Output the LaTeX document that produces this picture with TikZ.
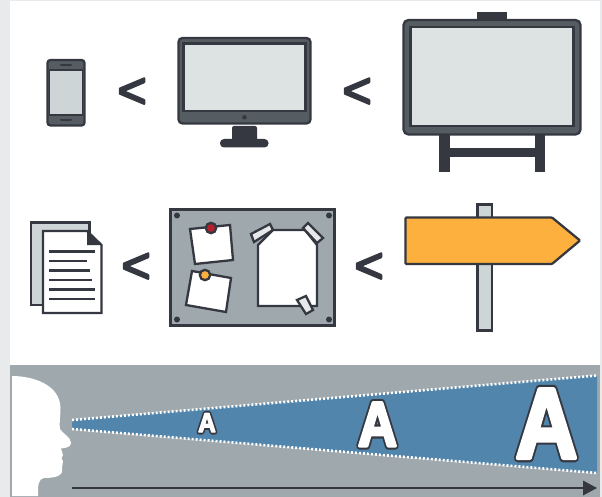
\documentclass[tikz,border=0pt]{standalone}
\usepackage{fontspec}
\setmainfont{Liberation Sans}
\definecolor{dk}{HTML}{353840}
\definecolor{md}{HTML}{555D63}
\definecolor{scr}{HTML}{DDE2E2}
\definecolor{scrb}{HTML}{CDD5D6}
\definecolor{gy}{HTML}{9EA8AD}
\definecolor{bl}{HTML}{5185AB}
\definecolor{og}{HTML}{FDB03E}
\definecolor{rd}{HTML}{B5202A}
\definecolor{pg}{HTML}{E8EAEC}
\definecolor{tp}{HTML}{E6E8E9}
\newcommand{\outl}[3]{\rlap{\special{pdf:code q 2 Tr 1 j #1 w 0.208 0.22 0.25 RG 0.208 0.22 0.25 rg}#3\special{pdf:code Q}}\special{pdf:code q 2 Tr 1 j #2 w 1 1 1 RG 1 1 1 rg}#3\special{pdf:code Q}}
\newcommand{\chev}[1]{\special{pdf:code q 2 Tr 1 J 1 j #1 w 0.208 0.22 0.25 RG 0.208 0.22 0.25 rg}<\special{pdf:code Q}}
\tikzset{
 ln/.style={draw=dk,line width=2.3pt},
 tx/.style={inner sep=0pt,anchor=base},
 ltmark/.style={inner sep=0pt,font=\fontsize{50}{50}\selectfont},
 screw/.style={fill=dk},
}
\begin{document}
\begin{tikzpicture}[x=1pt,y=-1pt]
\useasboundingbox (0,0) rectangle (602,497);
\fill[pg] (0,0) rectangle (602,497);
\fill[white] (10,1) rectangle (600,497);
% phone
\draw[ln,fill=md,rounded corners=3pt] (47.5,60) rectangle (84.5,125.5);
\draw[draw=dk,line width=1.8pt,fill=scrb] (49.5,70) rectangle (82.5,115);
\draw[dk,line width=2pt,line cap=round] (61,65) -- (71,65) (61,120.3) -- (71,120.3);
% monitor
\draw[ln,fill=md,rounded corners=4pt] (178.5,38) rectangle (310.5,123.5);
\draw[ln,fill=scr] (183.5,43.5) rectangle (305.5,111);
\fill[dk] (244.5,117.3) circle (2.3);
\fill[dk,rounded corners=2pt] (232,126) rectangle (257,145);
\fill[dk,rounded corners=4pt] (220,139) rectangle (268.5,147.5);
% whiteboard
\fill[dk] (477,12) rectangle (507,22);
\fill[dk] (439,130) rectangle (449.5,172.5);
\fill[dk] (535,130) rectangle (545,172.5);
\fill[dk] (445,148) rectangle (540,157);
\draw[ln,fill=md,rounded corners=5pt] (403.5,20) rectangle (580.5,134.5);
\draw[draw=dk,line width=2.5pt,fill=scr] (410.5,27) rectangle (573.5,126);
% less-than signs
\node[ltmark] (lt1) at (132,93) {\chev{2.2}};
\node[ltmark] (lt2) at (357,93) {\chev{2.2}};
\node[ltmark] (lt3) at (136,268) {\chev{2.2}};
\node[ltmark] (lt4) at (369,268) {\chev{2.2}};
% documents
\draw[ln,fill=scrb] (31,222.5) -- (89.5,222.5) -- (89.5,305) -- (31,305) -- cycle;
\draw[ln,fill=white] (43,231) -- (87,231) -- (101.5,245) -- (101.5,313) -- (43,313) -- cycle;
\fill[dk] (87,231) -- (101.5,245) -- (87,245) -- cycle;
\foreach \xe/\ye/\w in {95/251.5/3,87/261/2,90/270.5/3,92/280/2,95/289.5/3,95/299/2}
  \draw[dk,line width=\w pt] (49,\ye) -- (\xe,\ye);
% board
\draw[draw=dk,line width=2.5pt,fill=gy] (170.5,209.5) rectangle (334.5,325.5);
\foreach \p in {(177,215.5),(329,215.5),(177,319.5),(329,319.5)} \fill[screw] \p circle (3);
\draw[ln,fill=white] (190,229) -- (230,225) -- (233,260) -- (195,264) -- cycle;
\draw[ln,fill=rd] (211,228) circle (5.2);
\draw[ln,fill=white] (192,271) -- (231,278) -- (226,312) -- (186,305) -- cycle;
\draw[ln,fill=og] (205,275) circle (5.2);
\draw[ln,fill=white] (273,230) -- (305,230) -- (317,245) -- (317,306) -- (258,306) -- (258,245) -- cycle;
\draw[ln,fill=tp] (251,234) -- (270,224) -- (273,230) -- (254,242) -- cycle;
\draw[ln,fill=tp] (303,228) -- (308,223) -- (323,238) -- (317,243) -- cycle;
\draw[ln,fill=tp] (297,300) -- (306,296) -- (313,310) -- (306,314) -- cycle;
% sign
\draw[ln,fill=scrb] (477.5,204.5) rectangle (492,330.5);
\draw[ln,fill=og,rounded corners=1pt] (405.5,217.5) -- (552,217.5) -- (580,240.5) -- (552,264) -- (405.5,264) -- cycle;
% band
\fill[gy] (10,365) rectangle (600,497);
\fill[white] (12,376) .. controls (32,376) and (60,384) .. (60.5,408)
  .. controls (60.5,416) and (59,425) .. (60,429)
  .. controls (63,434) and (71,437) .. (71,443)
  .. controls (71,447) and (66,448) .. (61,448.5)
  -- (63,455) -- (61.5,458) -- (63,461) -- (62,468)
  .. controls (64,476) and (55,478) .. (44,478)
  .. controls (38,479) and (38,485) .. (38,496) -- (12,496) -- cycle;
\fill[bl] (72,420) -- (597,375.5) -- (597,473) -- (72,429) -- cycle;
\draw[white,line width=2.6pt,dash pattern=on 2pt off 2pt] (72,420) -- (597,375.5);
\draw[white,line width=2.6pt,dash pattern=on 2pt off 2pt] (72,429) -- (597,473);
\node[tx,xscale=.9,font=\fontsize{27}{27}\selectfont\bfseries] (a1) at (207,432) {\outl{5}{1.4}{A}};
\node[tx,xscale=.86,font=\fontsize{63}{63}\selectfont\bfseries] (a2) at (377.5,446) {\outl{7.2}{3}{A}};
\node[tx,xscale=.86,font=\fontsize{100}{100}\selectfont\bfseries] (a3) at (546.5,458) {\outl{8.6}{4.2}{A}};
\coordinate (as) at (72,488);
\coordinate (ae) at (597,488);
\draw[dk,line width=2.8pt] (as) -- (584,488);
\fill[dk] (ae) -- (583,480.5) -- (583,495.5) -- cycle;
\end{tikzpicture}
\end{document}
